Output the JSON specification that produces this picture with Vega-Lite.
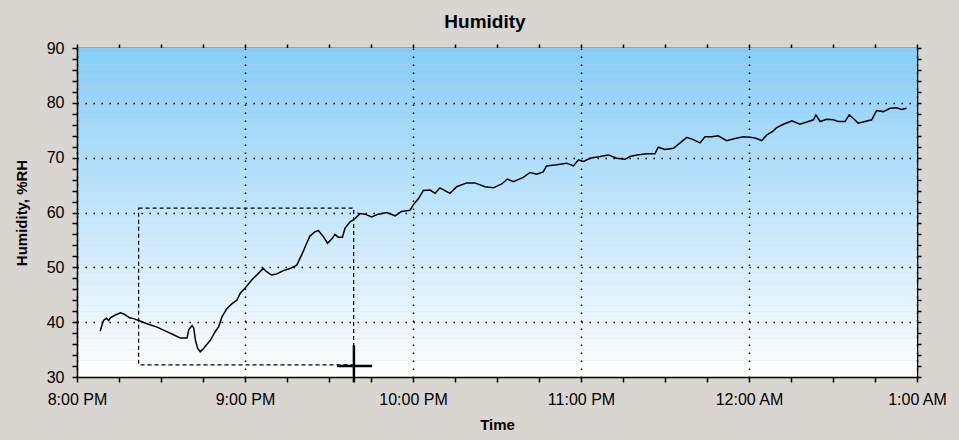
{
  "$schema": "https://vega.github.io/schema/vega-lite/v6.json",
  "width": 840,
  "height": 329,
  "autosize": "none",
  "padding": {"left": 77, "top": 48, "right": 42, "bottom": 63},
  "background": "#D9D5D0",
  "title": {"text": "Humidity", "fontSize": 19, "fontWeight": "bold", "color": "#000000", "offset": 8, "anchor": "middle", "dx": -12},
  "config": {
    "font": "Liberation Sans",
    "view": {"stroke": "#000000", "strokeWidth": 1},
    "axis": {"domainColor": "#000000", "tickColor": "#000000", "labelColor": "#000000", "titleColor": "#000000", "labelFontSize": 16, "titleFontSize": 15, "titleFontWeight": "bold", "labelFlush": false, "labelOverlap": false}
  },
  "layer": [
    {
      "data": {"values": [
        {"lo": 30, "hi": 31}, {"lo": 31, "hi": 32}, {"lo": 32, "hi": 33}, {"lo": 33, "hi": 34}, {"lo": 34, "hi": 35}, {"lo": 35, "hi": 36},
        {"lo": 36, "hi": 37}, {"lo": 37, "hi": 38}, {"lo": 38, "hi": 39}, {"lo": 39, "hi": 40}, {"lo": 40, "hi": 41}, {"lo": 41, "hi": 42},
        {"lo": 42, "hi": 43}, {"lo": 43, "hi": 44}, {"lo": 44, "hi": 45}, {"lo": 45, "hi": 46}, {"lo": 46, "hi": 47}, {"lo": 47, "hi": 48},
        {"lo": 48, "hi": 49}, {"lo": 49, "hi": 50}, {"lo": 50, "hi": 51}, {"lo": 51, "hi": 52}, {"lo": 52, "hi": 53}, {"lo": 53, "hi": 54},
        {"lo": 54, "hi": 55}, {"lo": 55, "hi": 56}, {"lo": 56, "hi": 57}, {"lo": 57, "hi": 58}, {"lo": 58, "hi": 59}, {"lo": 59, "hi": 60},
        {"lo": 60, "hi": 61}, {"lo": 61, "hi": 62}, {"lo": 62, "hi": 63}, {"lo": 63, "hi": 64}, {"lo": 64, "hi": 65}, {"lo": 65, "hi": 66},
        {"lo": 66, "hi": 67}, {"lo": 67, "hi": 68}, {"lo": 68, "hi": 69}, {"lo": 69, "hi": 70}, {"lo": 70, "hi": 71}, {"lo": 71, "hi": 72},
        {"lo": 72, "hi": 73}, {"lo": 73, "hi": 74}, {"lo": 74, "hi": 75}, {"lo": 75, "hi": 76}, {"lo": 76, "hi": 77}, {"lo": 77, "hi": 78},
        {"lo": 78, "hi": 79}, {"lo": 79, "hi": 80}, {"lo": 80, "hi": 81}, {"lo": 81, "hi": 82}, {"lo": 82, "hi": 83}, {"lo": 83, "hi": 84},
        {"lo": 84, "hi": 85}, {"lo": 85, "hi": 86}, {"lo": 86, "hi": 87}, {"lo": 87, "hi": 88}, {"lo": 88, "hi": 89}, {"lo": 89, "hi": 90}
      ]},
      "mark": {"type": "rect", "strokeWidth": 0},
      "encoding": {
        "x": {"datum": {"year": 2024, "month": 1, "date": 1, "hours": 20}, "type": "temporal", "axis": null},
        "x2": {"datum": {"year": 2024, "month": 1, "date": 2, "hours": 1}},
        "y": {"field": "lo", "type": "quantitative", "axis": null},
        "y2": {"field": "hi"},
        "color": {"field": "lo", "type": "quantitative", "legend": null, "scale": {"domain": [30, 89], "range": ["#FFFFFF", "#86CDF9"], "interpolate": "rgb"}}
      }
    },
    {
      "data": {"values": [
        {"t": "2024-01-01T20:08:18", "h": 38.4}, {"t": "2024-01-01T20:09:00", "h": 39.6}, {"t": "2024-01-01T20:09:30", "h": 40.3},
        {"t": "2024-01-01T20:10:30", "h": 40.7}, {"t": "2024-01-01T20:11:18", "h": 40.3}, {"t": "2024-01-01T20:11:54", "h": 40.8},
        {"t": "2024-01-01T20:13:42", "h": 41.3}, {"t": "2024-01-01T20:15:30", "h": 41.7}, {"t": "2024-01-01T20:16:42", "h": 41.5},
        {"t": "2024-01-01T20:18:48", "h": 40.8}, {"t": "2024-01-01T20:20:30", "h": 40.6}, {"t": "2024-01-01T20:22:00", "h": 40.3},
        {"t": "2024-01-01T20:25:00", "h": 39.7}, {"t": "2024-01-01T20:28:36", "h": 39.1}, {"t": "2024-01-01T20:31:30", "h": 38.4},
        {"t": "2024-01-01T20:34:30", "h": 37.7}, {"t": "2024-01-01T20:36:54", "h": 37.1}, {"t": "2024-01-01T20:39:18", "h": 37.1},
        {"t": "2024-01-01T20:39:54", "h": 38.6}, {"t": "2024-01-01T20:41:06", "h": 39.4}, {"t": "2024-01-01T20:41:42", "h": 38.9},
        {"t": "2024-01-01T20:42:18", "h": 36.7}, {"t": "2024-01-01T20:43:06", "h": 35.2}, {"t": "2024-01-01T20:44:00", "h": 34.6},
        {"t": "2024-01-01T20:45:12", "h": 35.2}, {"t": "2024-01-01T20:47:36", "h": 36.7}, {"t": "2024-01-01T20:49:24", "h": 38.3},
        {"t": "2024-01-01T20:50:36", "h": 39.2}, {"t": "2024-01-01T20:51:48", "h": 41.0}, {"t": "2024-01-01T20:53:36", "h": 42.5},
        {"t": "2024-01-01T20:55:24", "h": 43.4}, {"t": "2024-01-01T20:57:06", "h": 44.0}, {"t": "2024-01-01T20:58:18", "h": 45.3},
        {"t": "2024-01-01T21:00:00", "h": 46.2}, {"t": "2024-01-01T21:02:24", "h": 47.7}, {"t": "2024-01-01T21:04:48", "h": 48.9},
        {"t": "2024-01-01T21:06:30", "h": 49.8}, {"t": "2024-01-01T21:07:42", "h": 49.2}, {"t": "2024-01-01T21:09:30", "h": 48.6},
        {"t": "2024-01-01T21:11:18", "h": 48.8}, {"t": "2024-01-01T21:13:42", "h": 49.4}, {"t": "2024-01-01T21:16:06", "h": 49.8},
        {"t": "2024-01-01T21:18:30", "h": 50.4}, {"t": "2024-01-01T21:19:36", "h": 51.6}, {"t": "2024-01-01T21:20:48", "h": 52.9},
        {"t": "2024-01-01T21:22:00", "h": 54.4}, {"t": "2024-01-01T21:23:12", "h": 55.7}, {"t": "2024-01-01T21:25:00", "h": 56.5},
        {"t": "2024-01-01T21:26:12", "h": 56.7}, {"t": "2024-01-01T21:28:00", "h": 55.6}, {"t": "2024-01-01T21:29:30", "h": 54.4},
        {"t": "2024-01-01T21:31:12", "h": 55.3}, {"t": "2024-01-01T21:32:06", "h": 56.0}, {"t": "2024-01-01T21:33:18", "h": 55.5},
        {"t": "2024-01-01T21:34:48", "h": 55.5}, {"t": "2024-01-01T21:35:42", "h": 57.1}, {"t": "2024-01-01T21:37:30", "h": 58.3},
        {"t": "2024-01-01T21:39:18", "h": 58.9}, {"t": "2024-01-01T21:41:06", "h": 59.8}, {"t": "2024-01-01T21:42:54", "h": 59.7},
        {"t": "2024-01-01T21:45:12", "h": 59.2}, {"t": "2024-01-01T21:47:36", "h": 59.7}, {"t": "2024-01-01T21:50:36", "h": 60.0},
        {"t": "2024-01-01T21:53:36", "h": 59.4}, {"t": "2024-01-01T21:55:54", "h": 60.2}, {"t": "2024-01-01T21:58:54", "h": 60.4},
        {"t": "2024-01-01T22:00:06", "h": 61.4}, {"t": "2024-01-01T22:01:54", "h": 62.5}, {"t": "2024-01-01T22:03:42", "h": 64.0},
        {"t": "2024-01-01T22:06:06", "h": 64.1}, {"t": "2024-01-01T22:07:54", "h": 63.5}, {"t": "2024-01-01T22:09:36", "h": 64.5},
        {"t": "2024-01-01T22:11:24", "h": 64.0}, {"t": "2024-01-01T22:13:12", "h": 63.5}, {"t": "2024-01-01T22:15:36", "h": 64.7},
        {"t": "2024-01-01T22:19:12", "h": 65.4}, {"t": "2024-01-01T22:22:06", "h": 65.4}, {"t": "2024-01-01T22:25:42", "h": 64.7},
        {"t": "2024-01-01T22:28:42", "h": 64.5}, {"t": "2024-01-01T22:31:42", "h": 65.2}, {"t": "2024-01-01T22:33:42", "h": 66.1},
        {"t": "2024-01-01T22:35:48", "h": 65.6}, {"t": "2024-01-01T22:39:24", "h": 66.4}, {"t": "2024-01-01T22:41:48", "h": 67.3},
        {"t": "2024-01-01T22:44:12", "h": 67.0}, {"t": "2024-01-01T22:46:30", "h": 67.4}, {"t": "2024-01-01T22:47:42", "h": 68.5},
        {"t": "2024-01-01T22:51:18", "h": 68.7}, {"t": "2024-01-01T22:54:54", "h": 69.0}, {"t": "2024-01-01T22:57:18", "h": 68.5},
        {"t": "2024-01-01T22:59:06", "h": 69.6}, {"t": "2024-01-01T23:00:54", "h": 69.3}, {"t": "2024-01-01T23:03:12", "h": 69.9},
        {"t": "2024-01-01T23:06:48", "h": 70.2}, {"t": "2024-01-01T23:09:48", "h": 70.5}, {"t": "2024-01-01T23:12:42", "h": 69.9},
        {"t": "2024-01-01T23:15:42", "h": 69.7}, {"t": "2024-01-01T23:17:30", "h": 70.2}, {"t": "2024-01-01T23:19:54", "h": 70.5},
        {"t": "2024-01-01T23:23:30", "h": 70.7}, {"t": "2024-01-01T23:26:24", "h": 70.7}, {"t": "2024-01-01T23:27:36", "h": 71.9},
        {"t": "2024-01-01T23:30:00", "h": 71.5}, {"t": "2024-01-01T23:33:00", "h": 71.7}, {"t": "2024-01-01T23:35:24", "h": 72.7},
        {"t": "2024-01-01T23:37:48", "h": 73.7}, {"t": "2024-01-01T23:40:06", "h": 73.3}, {"t": "2024-01-01T23:42:30", "h": 72.7},
        {"t": "2024-01-01T23:44:18", "h": 73.8}, {"t": "2024-01-01T23:46:42", "h": 73.8}, {"t": "2024-01-01T23:49:00", "h": 74.0},
        {"t": "2024-01-01T23:52:00", "h": 73.1}, {"t": "2024-01-01T23:55:00", "h": 73.5}, {"t": "2024-01-01T23:58:00", "h": 73.8},
        {"t": "2024-01-02T00:01:00", "h": 73.7}, {"t": "2024-01-02T00:02:42", "h": 73.5}, {"t": "2024-01-02T00:04:30", "h": 73.1},
        {"t": "2024-01-02T00:06:18", "h": 74.1}, {"t": "2024-01-02T00:08:42", "h": 74.9}, {"t": "2024-01-02T00:09:54", "h": 75.5},
        {"t": "2024-01-02T00:12:18", "h": 76.1}, {"t": "2024-01-02T00:15:18", "h": 76.7}, {"t": "2024-01-02T00:18:12", "h": 76.1},
        {"t": "2024-01-02T00:21:12", "h": 76.6}, {"t": "2024-01-02T00:23:00", "h": 76.9}, {"t": "2024-01-02T00:23:54", "h": 77.8},
        {"t": "2024-01-02T00:25:24", "h": 76.6}, {"t": "2024-01-02T00:27:42", "h": 77.0}, {"t": "2024-01-02T00:30:06", "h": 76.9},
        {"t": "2024-01-02T00:31:54", "h": 76.6}, {"t": "2024-01-02T00:34:18", "h": 76.6}, {"t": "2024-01-02T00:35:48", "h": 77.8},
        {"t": "2024-01-02T00:37:12", "h": 77.2}, {"t": "2024-01-02T00:39:00", "h": 76.3}, {"t": "2024-01-02T00:41:24", "h": 76.6},
        {"t": "2024-01-02T00:43:48", "h": 76.9}, {"t": "2024-01-02T00:45:36", "h": 78.6}, {"t": "2024-01-02T00:48:00", "h": 78.4},
        {"t": "2024-01-02T00:50:24", "h": 79.0}, {"t": "2024-01-02T00:52:48", "h": 79.1}, {"t": "2024-01-02T00:54:30", "h": 78.8},
        {"t": "2024-01-02T00:56:18", "h": 79.0}
      ]},
      "mark": {"type": "line", "color": "#000000", "strokeWidth": 1.5},
      "encoding": {
        "x": {
          "field": "t", "type": "temporal", "title": "Time",
          "scale": {"domain": [{"year": 2024, "month": 1, "date": 1, "hours": 20}, {"year": 2024, "month": 1, "date": 2, "hours": 1}]},
          "axis": {
            "zindex": 1,
            "values": [
              {"year": 2024, "month": 1, "date": 1, "hours": 20, "minutes": 0}, {"year": 2024, "month": 1, "date": 1, "hours": 20, "minutes": 15},
              {"year": 2024, "month": 1, "date": 1, "hours": 20, "minutes": 30}, {"year": 2024, "month": 1, "date": 1, "hours": 20, "minutes": 45},
              {"year": 2024, "month": 1, "date": 1, "hours": 21, "minutes": 0}, {"year": 2024, "month": 1, "date": 1, "hours": 21, "minutes": 15},
              {"year": 2024, "month": 1, "date": 1, "hours": 21, "minutes": 30}, {"year": 2024, "month": 1, "date": 1, "hours": 21, "minutes": 45},
              {"year": 2024, "month": 1, "date": 1, "hours": 22, "minutes": 0}, {"year": 2024, "month": 1, "date": 1, "hours": 22, "minutes": 15},
              {"year": 2024, "month": 1, "date": 1, "hours": 22, "minutes": 30}, {"year": 2024, "month": 1, "date": 1, "hours": 22, "minutes": 45},
              {"year": 2024, "month": 1, "date": 1, "hours": 23, "minutes": 0}, {"year": 2024, "month": 1, "date": 1, "hours": 23, "minutes": 15},
              {"year": 2024, "month": 1, "date": 1, "hours": 23, "minutes": 30}, {"year": 2024, "month": 1, "date": 1, "hours": 23, "minutes": 45},
              {"year": 2024, "month": 1, "date": 2, "hours": 0, "minutes": 0}, {"year": 2024, "month": 1, "date": 2, "hours": 0, "minutes": 15},
              {"year": 2024, "month": 1, "date": 2, "hours": 0, "minutes": 30}, {"year": 2024, "month": 1, "date": 2, "hours": 0, "minutes": 45},
              {"year": 2024, "month": 1, "date": 2, "hours": 1, "minutes": 0}
            ],
            "labelExpr": "minutes(datum.value) == 0 ? timeFormat(datum.value, '%-I:%M %p') : ''",
            "grid": true, "gridColor": "#000000", "gridDash": [1.5, 6.5], "gridWidth": 1.5,
            "gridOpacity": {"condition": {"test": "minutes(datum.value) == 0", "value": 1}, "value": 0},
            "tickSize": 5,
            "tickWidth": 1.5, "domainWidth": 1.5,
            "labelPadding": 9, "titlePadding": 10
          }
        },
        "y": {
          "field": "h", "type": "quantitative", "title": "Humidity, %RH",
          "scale": {"domain": [30, 90], "nice": false, "zero": false},
          "axis": {
            "zindex": 1,
            "values": [30, 32, 34, 36, 38, 40, 42, 44, 46, 48, 50, 52, 54, 56, 58, 60, 62, 64, 66, 68, 70, 72, 74, 76, 78, 80, 82, 84, 86, 88, 90],
            "labelExpr": "datum.value % 10 == 0 ? datum.value : ''",
            "grid": true, "gridColor": "#000000", "gridDash": [1.5, 6.5], "gridWidth": 1.5,
            "gridOpacity": {"condition": {"test": "datum.value % 10 == 0 && datum.value > 30 && datum.value < 90", "value": 1}, "value": 0},
            "tickSize": 5,
            "tickWidth": 1.5, "domainWidth": 1.5,
            "labelPadding": 8, "titlePadding": 17
          }
        }
      }
    },
    {
      "data": {"values": [{"x1": "2024-01-01T20:22:00", "x2": "2024-01-01T21:38:48", "y1": 32.2, "y2": 60.8}]},
      "mark": {"type": "rect", "fillOpacity": 0, "stroke": "#000000", "strokeWidth": 1.2, "strokeDash": [4, 3]},
      "encoding": {
        "x": {"field": "x1", "type": "temporal", "axis": {"orient": "top", "labels": false, "grid": false, "title": null, "tickCount": 20, "tickSize": 4, "tickWidth": 1.5, "domainWidth": 1.5}},
        "x2": {"field": "x2"},
        "y": {"field": "y1", "type": "quantitative", "axis": {"orient": "right", "labels": false, "grid": false, "title": null, "values": [30, 32, 34, 36, 38, 40, 42, 44, 46, 48, 50, 52, 54, 56, 58, 60, 62, 64, 66, 68, 70, 72, 74, 76, 78, 80, 82, 84, 86, 88, 90], "tickSize": 4, "tickWidth": 1.5, "domainWidth": 1.5}},
        "y2": {"field": "y2"}
      }
    },
    {
      "data": {"values": [
        {"x1": "2024-01-01T21:32:54", "x2": "2024-01-01T21:45:24", "y1": 32.0, "y2": 32.0},
        {"x1": "2024-01-01T21:38:54", "x2": "2024-01-01T21:38:54", "y1": 29.0, "y2": 35.8}
      ]},
      "mark": {"type": "rule", "color": "#000000", "strokeWidth": 2.5},
      "encoding": {
        "x": {"field": "x1", "type": "temporal", "axis": null},
        "x2": {"field": "x2"},
        "y": {"field": "y1", "type": "quantitative", "axis": null},
        "y2": {"field": "y2"}
      }
    }
  ],
  "resolve": {"axis": {"x": "independent", "y": "independent"}}
}
